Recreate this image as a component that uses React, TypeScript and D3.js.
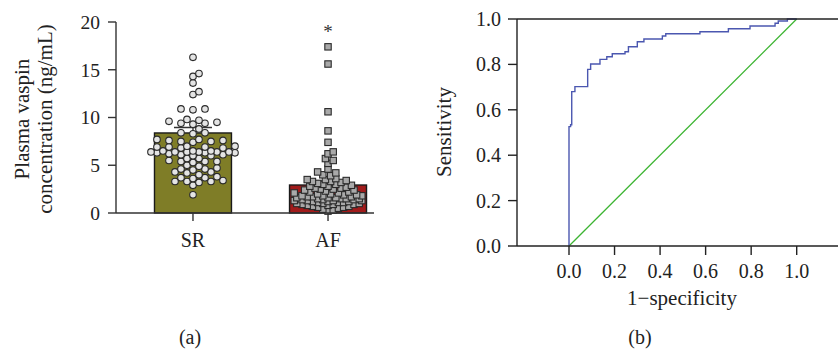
import React from "react";
import * as d3 from "d3";

// ---------- Panel (a) data ----------
const groups = ["SR", "AF"];
const groupMeans = [8.38, 2.93];
const groupSem = [0.58, 0.42];
const yTicksA = [0, 5, 10, 15, 20];

const srValues = [
  16.3, 14.6, 14.3, 13.6, 12.7, 12.4, 10.9, 10.8, 10.9, 9.8, 9.7, 9.6, 9.5, 9.4, 9.4, 9.3,
  8.8, 8.4, 8.4, 8.3, 7.7, 7.6, 7.6, 7.5, 7.5, 7.7, 7.4, 6.9, 7.0, 6.9, 6.8, 6.9, 7.0, 6.8,
  6.5, 6.4, 6.4, 6.3, 6.4, 6.5, 6.3, 6.4, 6.2, 6.4, 6.3, 6.5, 6.4, 6.1, 6.0, 6.1, 6.0,
  5.7, 5.7, 5.4, 5.4, 5.5, 5.3, 5.4, 5.0, 4.9, 4.6, 4.6, 4.5, 4.7, 4.3, 4.3, 4.2, 4.0,
  3.7, 3.7, 3.8, 3.6, 3.3, 3.3, 3.2, 3.3, 3.4, 2.9, 1.9,
];

const afValues = [
  17.4, 15.6, 10.6, 8.6, 7.4, 6.4, 6.2, 5.7, 5.5, 5.2, 4.6, 4.3, 4.2, 4.0, 3.9,
  3.6, 3.5, 3.5, 3.4, 3.3, 3.3, 3.2, 3.1, 3.0, 3.0,
  2.9, 2.8, 2.8, 2.7, 2.6, 2.6, 2.5, 2.5, 2.4, 2.4, 2.3, 2.2, 2.2, 2.1, 2.1, 2.0, 2.0,
  1.9, 1.9, 1.8, 1.8, 1.8, 1.7, 1.7, 1.7, 1.6, 1.6, 1.6, 1.5, 1.5, 1.5, 1.5, 1.4, 1.4,
  1.4, 1.3, 1.3, 1.3, 1.3, 1.2, 1.2, 1.2, 1.1, 1.1, 1.1, 1.0, 1.0, 1.0, 0.9, 0.9, 0.9,
  0.8, 0.8, 0.7, 0.7, 0.6, 0.6, 0.5, 0.4, 0.3, 0.2,
];

// ---------- Panel (b) data ----------
const rocFpr = [0, 0, 0.007, 0.012, 0.026, 0.082, 0.095, 0.136, 0.166, 0.19, 0.246, 0.261, 0.3, 0.329, 0.41, 0.425, 0.575, 0.7, 0.795, 0.905, 0.919, 0.959, 1.0];
const rocTpr = [0, 0.526, 0.534, 0.68, 0.702, 0.778, 0.802, 0.822, 0.834, 0.847, 0.856, 0.878, 0.9, 0.912, 0.925, 0.935, 0.944, 0.957, 0.969, 0.981, 0.991, 1.0, 1.0];
const rocTicks = [0, 0.2, 0.4, 0.6, 0.8, 1.0];
const refLine = [0, 1];

const FONT = "'Liberation Serif', 'Times New Roman', serif";

type P = { x: number; y: number };

function beeswarm(
  values: number[],
  y: (v: number) => number,
  cx: number,
  step: number,
  minDist: number,
  maxHalf: number
): P[] {
  const sorted = [...values].sort((a, b) => a - b);
  const placed: P[] = [];
  const offsets: number[] = [0];
  for (let k = 1; k * step <= maxHalf; k++) {
    offsets.push(k * step, -k * step);
  }
  for (const v of sorted) {
    const py = y(v);
    let best: P | null = null;
    let bestScore = Infinity;
    for (const o of offsets) {
      const cand = { x: cx + o, y: py };
      let score = 0;
      for (const p of placed) {
        const dx = cand.x - p.x;
        const dy = cand.y - p.y;
        const d = Math.sqrt(dx * dx + dy * dy);
        if (d < minDist) score += minDist - d;
      }
      if (score === 0) {
        best = cand;
        break;
      }
      if (score < bestScore) {
        bestScore = score;
        best = cand;
      }
    }
    placed.push(best as P);
  }
  return placed;
}

export default function App() {
  // Panel (a) scales
  const yA = d3.scaleLinear().domain([0, 20]).range([213, 22]);
  const xA = d3.scaleBand<string>().domain(groups).range([116, 405]).paddingInner(0.43).paddingOuter(0.285);
  const bw = xA.bandwidth();
  const cAF = (xA("AF") as number) + bw / 2;
  const cSR = (xA("SR") as number) + bw / 2;

  const srPts = beeswarm(srValues, (v) => yA(v), cSR, 6, 6.4, 42);
  const afPts = beeswarm(afValues, (v) => yA(v), cAF, 2.6, 5.0, 36);

  // Panel (b) scales
  const xB = d3.scaleLinear().domain([0, 1]).range([569, 796.7]);
  const yB = d3.scaleLinear().domain([0, 1]).range([246, 19]);
  const rocPts: [number, number][] = rocFpr.map((f, i) => [f, rocTpr[i]]);
  const rocPath = d3
    .line<[number, number]>()
    .x((d) => xB(d[0]))
    .y((d) => yB(d[1]))
    .curve(d3.curveStepAfter)(rocPts) as string;
  const diagPath = d3
    .line<number>()
    .x((d) => xB(d))
    .y((d) => yB(d))(refLine) as string;

  const barColors = ["#7f7d27", "#a11b1b"];
  const sq = 6.4;

  return (
    <svg
      width={838}
      height={349}
      style={{ position: "absolute", left: 0, top: 0, background: "#fff" }}
      fontFamily={FONT}
    >
      {/* ===== Panel (a) ===== */}
      {groups.map((g, i) => (
        <rect
          key={g}
          x={xA(g) as number}
          y={yA(groupMeans[i])}
          width={bw}
          height={yA(0) - yA(groupMeans[i])}
          fill={barColors[i]}
          stroke="#1a1a1a"
          strokeWidth={1.4}
        />
      ))}
      {groups.map((g, i) => {
        const c = (xA(g) as number) + bw / 2;
        const top = yA(groupMeans[i] + groupSem[i]);
        return (
          <g key={"e" + g} stroke="#333" strokeWidth={1.4}>
            <line x1={c} x2={c} y1={yA(groupMeans[i])} y2={top} />
            <line x1={c - 19} x2={c + 19} y1={top} y2={top} />
          </g>
        );
      })}
      {srPts.map((p, i) => (
        <circle key={"s" + i} cx={p.x} cy={p.y} r={3.3} fill="#e4e4e4" stroke="#2a2a2a" strokeWidth={1.1} />
      ))}
      {afPts.map((p, i) => (
        <rect
          key={"a" + i}
          x={p.x - sq / 2}
          y={p.y - sq / 2}
          width={sq}
          height={sq}
          fill="#a9a9a9"
          stroke="#2a2a2a"
          strokeWidth={1.1}
        />
      ))}
      <text x={cAF} y={38} textAnchor="middle" fontSize={19} fill="#333">
        *
      </text>
      <line x1={116} x2={116} y1={yA(20)} y2={yA(0)} stroke="#333" strokeWidth={1.4} />
      <line x1={116} x2={374} y1={yA(0)} y2={yA(0)} stroke="#333" strokeWidth={1.4} />
      {yTicksA.map((t) => (
        <g key={"ya" + t}>
          <line x1={108} x2={116} y1={yA(t)} y2={yA(t)} stroke="#333" strokeWidth={1.4} />
          <text x={100} y={yA(t)} dy="0.35em" textAnchor="end" fontSize={19.5} fill="#222">
            {t}
          </text>
        </g>
      ))}
      {groups.map((g) => {
        const c = (xA(g) as number) + bw / 2;
        return (
          <g key={"xa" + g}>
            <line x1={c} x2={c} y1={yA(0)} y2={yA(0) + 8} stroke="#333" strokeWidth={1.4} />
            <text x={c} y={247} textAnchor="middle" fontSize={20} fill="#222">
              {g}
            </text>
          </g>
        );
      })}
      <text transform="translate(29,119) rotate(-90)" textAnchor="middle" fontSize={21} fill="#222">
        Plasma vaspin
      </text>
      <text transform="translate(52,119) rotate(-90)" textAnchor="middle" fontSize={21} fill="#222">
        concentration (ng/mL)
      </text>
      <text x={190} y={344} textAnchor="middle" fontSize={20} fill="#222">
        (a)
      </text>

      {/* ===== Panel (b) ===== */}
      <path d={diagPath} fill="none" stroke="#3cb432" strokeWidth={1.3} />
      <path d={rocPath} fill="none" stroke="#4b57b0" strokeWidth={1.4} />
      <line x1={517} x2={517} y1={19} y2={246} stroke="#222" strokeWidth={1.4} />
      <line x1={517} x2={838} y1={19} y2={19} stroke="#222" strokeWidth={1.4} />
      <line x1={517} x2={838} y1={246} y2={246} stroke="#222" strokeWidth={1.4} />
      {rocTicks.map((t) => (
        <g key={"yb" + t}>
          <line x1={508} x2={517} y1={yB(t)} y2={yB(t)} stroke="#222" strokeWidth={1.4} />
          <text x={501} y={yB(t)} dy="0.35em" textAnchor="end" fontSize={20} fill="#222">
            {t.toFixed(1)}
          </text>
        </g>
      ))}
      {rocTicks.map((t) => (
        <g key={"xb" + t}>
          <line x1={xB(t)} x2={xB(t)} y1={246} y2={255} stroke="#222" strokeWidth={1.4} />
          <text x={xB(t)} y={278} textAnchor="middle" fontSize={20} fill="#222">
            {t.toFixed(1)}
          </text>
        </g>
      ))}
      <text transform="translate(451,132) rotate(-90)" textAnchor="middle" fontSize={21} fill="#222">
        Sensitivity
      </text>
      <text x={682} y={305} textAnchor="middle" fontSize={21} fill="#222">
        1−specificity
      </text>
      <text x={640} y={344} textAnchor="middle" fontSize={20} fill="#222">
        (b)
      </text>
    </svg>
  );
}
